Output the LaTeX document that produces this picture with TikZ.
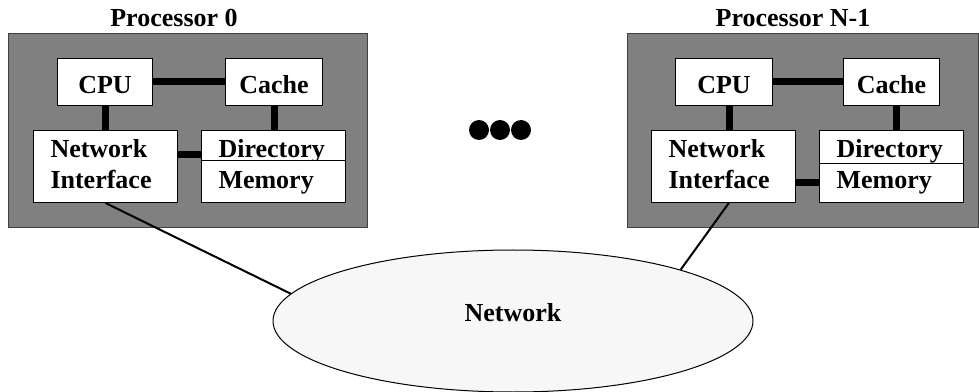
\documentclass[tikz,border=0pt]{standalone}
\usepackage{fontspec}
\setmainfont{Liberation Serif}
\usetikzlibrary{shapes.geometric,positioning}
\definecolor{procgray}{RGB}{128,128,128}
\definecolor{procedge}{RGB}{64,64,64}
\definecolor{netfill}{RGB}{247,247,247}

\tikzset{
  sized/.style 2 args={minimum width=#1*0.75pt, minimum height=#2*0.75pt},
  procbox/.style={draw=procedge, fill=procgray, line width=0.75pt,
    rectangle, anchor=north west, inner sep=0pt},
  unit/.style={draw, fill=white, line width=0.75pt, rectangle,
    anchor=north west, inner sep=0pt,
    font=\fontsize{19.5}{23}\selectfont\bfseries},
  lefttext/.style={text width=82.5pt, align=left},
  bus/.style={line width=5.25pt},
  link/.style={line width=1.5pt},
  title/.style={anchor=base, font=\fontsize{19.5}{23}\selectfont\bfseries},
  dot/.style={circle, fill=black, minimum size=15pt, inner sep=0pt}
}

\begin{document}
\begin{tikzpicture}[x=0.75pt, y=-0.75pt]
  \useasboundingbox (0,0) rectangle (979,392);

  % Processor 0
  \node[procbox, sized={359}{194}] (p0) at (8,33) {};
  \node[title] (t0) at (174,27) {Processor 0};
  \node[unit, sized={95}{47}, text height=26.25pt, text depth=9pt] (cpu0) at (57,58) {CPU};
  \node[unit, sized={97}{47}, text height=26.25pt, text depth=9pt] (cache0) at (225,58) {Cache};
  \node[unit, lefttext, sized={144}{72}, text height=20.25pt, text depth=33.75pt] %
    (ni0) at (33,130) {Network\\Interface};
  \node[unit, lefttext, sized={144}{30}, text height=20.25pt, text depth=2.25pt] %
    (dir0) at (201,130) {Directory};
  \node[unit, lefttext, sized={144}{42}, text height=21pt, text depth=10.5pt] %
    (mem0) at (201,160) {Memory};

  \draw[bus] (cpu0) -- (cache0);
  \draw[bus] (cpu0.south) -- (cpu0.south |- ni0.north);
  \draw[bus] (cache0.south) -- (cache0.south |- dir0.north);
  \draw[bus] (ni0.east |- dir0.mid west) -- (dir0.mid west);

  % Processor N-1
  \node[procbox, sized={351}{194}] (p1) at (627,33) {};
  \node[title] (t1) at (793,27) {Processor N-1};
  \node[unit, sized={97}{47}, text height=26.25pt, text depth=9pt] (cpu1) at (675,58) {CPU};
  \node[unit, sized={96}{47}, text height=26.25pt, text depth=9pt] (cache1) at (843,58) {Cache};
  \node[unit, lefttext, sized={144}{72}, text height=20.25pt, text depth=33.75pt] %
    (ni1) at (651,130) {Network\\Interface};
  \node[unit, lefttext, sized={144}{33}, text height=20.25pt, text depth=4.5pt] %
    (dir1) at (819,130) {Directory};
  \node[unit, lefttext, sized={144}{39}, text height=18.75pt, text depth=10.5pt] %
    (mem1) at (819,163) {Memory};

  \draw[bus] (cpu1) -- (cache1);
  \draw[bus] ([xshift=4pt]cpu1.south) -- ([xshift=4pt]cpu1.south |- ni1.north);
  \draw[bus] ([xshift=4pt]cache1.south) -- ([xshift=4pt]cache1.south |- dir1.north);
  \draw[bus] (ni1.east |- mem1) -- (mem1.west);

  % Dots between processors
  \foreach \i/\x in {1/479, 2/500, 3/521}
    \node[dot] (dot\i) at (\x,130) {};

  % Network
  \node[ellipse, draw, fill=netfill, line width=0.75pt, sized={480}{142}, inner sep=0pt,
    text height=12.5pt, text depth=12.5pt,
    font=\fontsize{19.5}{23}\selectfont\bfseries] (net) at (513,321) {Network};

  \draw[link] (ni0.south) -- (net.173);
  \draw[link] ([xshift=4pt]ni1.south) -- (net.17);
\end{tikzpicture}
\end{document}
